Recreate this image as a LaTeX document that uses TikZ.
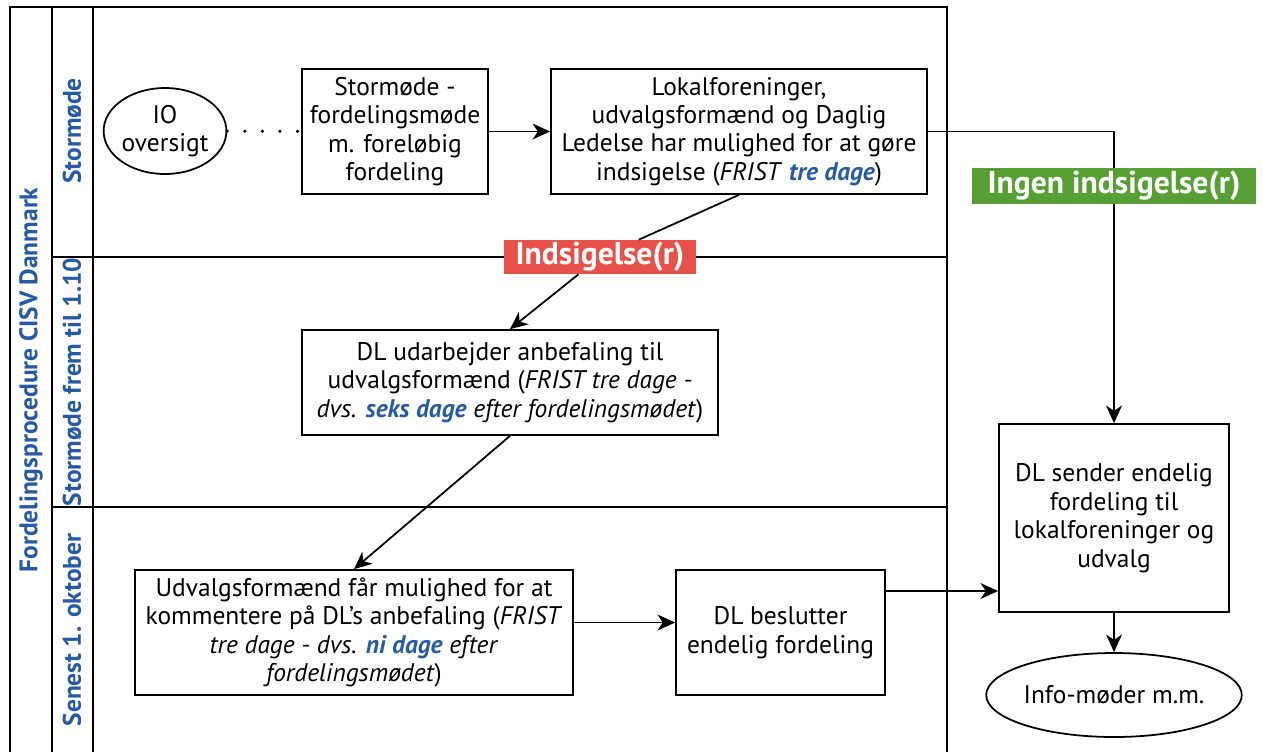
\documentclass[tikz,border=0pt]{standalone}
\usepackage{fontspec}
\setmainfont{PT Sans}
\usepackage{xcolor}
\usepackage{tikz}
\usetikzlibrary{arrows.meta,shapes.geometric,positioning}
\definecolor{laneblue}{RGB}{36,90,168}
\definecolor{noticered}{RGB}{232,80,74}
\definecolor{noticegreen}{RGB}{86,160,51}
\tikzset{pool style/.style={line width=1pt},
	step box/.style={draw,line width=1pt,align=center,inner sep=2pt,font=\fontsize{14.5}{16.2}\selectfont},
	end oval/.style={draw,ellipse,line width=1pt,align=center,inner sep=0pt,font=\fontsize{14.5}{16.2}\selectfont},
	lane text/.style={rotate=90,text=laneblue,font=\bfseries\fontsize{14.5}{16}\selectfont},
	tag/.style={text=white,inner sep=1pt,font=\bfseries\fontsize{18}{19}\selectfont}}
\newcommand{\frist}[1]{\textcolor{laneblue}{\bfseries\itshape #1}}

\begin{document}
\begin{tikzpicture}[x=0.02cm,y=-0.02cm,flow/.style={line width=1pt,arrows={-Stealth[length=10pt,width=9pt,inset=3pt]}}]
	\useasboundingbox (0,0) rectangle (1263,752);
	
	% pool and lanes
	\draw[pool style] (10,752) -- (10,7) -- (947,7) -- (947,752);
	\draw[pool style] (52,7) -- (52,752);
	\draw[pool style] (93,7) -- (93,752);
	\draw[pool style] (52,257) -- (947,257);
	\draw[pool style] (52,507) -- (947,507);
	
	\node[lane text] (pool) at (31,380) {Fordelingsprocedure CISV Danmark};
	\node[lane text] (lane1) at (72,131) {Stormøde};
	\node[lane text] (lane2) at (72,382) {Stormøde frem til 1.10};
	\node[lane text] (lane3) at (72,630) {Senest 1. oktober};
	
	% steps
	\node[end oval,minimum width=2.08cm,minimum height=1.72cm] (io) at (165,131) {IO\\oversigt};
	\node[step box,minimum width=3.72cm,minimum height=2.5cm] (stormode) at (395,131.5) {Stormøde -\\fordelingsmøde\\m. foreløbig\\fordeling};
	\node[step box,minimum width=7.52cm,minimum height=2.5cm] (lokal) at (739,131.5) {Lokalforeninger,\\udvalgsformænd og Daglig\\Ledelse har mulighed for at gøre\\indsigelse (\textit{FRIST} \frist{tre dage})};
	\node[step box,minimum width=8.32cm,minimum height=2.1cm] (udarb) at (510,382.5) {DL udarbejder anbefaling til\\udvalgsformænd (\textit{FRIST tre dage -}\\\textit{dvs. \frist{seks dage} efter fordelingsmødet})};
	\node[step box,minimum width=8.76cm,minimum height=2.5cm] (udvalg) at (354,632.5) {Udvalgsformænd får mulighed for at\\kommentere på DL's anbefaling (\textit{FRIST}\\\textit{tre dage - dvs. \frist{ni dage} efter}\\\textit{fordelingsmødet})};
	\node[step box,minimum width=4.18cm,minimum height=2.5cm] (beslut) at (780.5,632.5) {DL beslutter\\endelig fordeling};
	\node[step box,minimum width=4.6cm,minimum height=3.76cm] (sender) at (1114,518) {DL sender endelig\\fordeling til\\lokalforeninger og\\udvalg};
	\node[end oval,minimum width=5.04cm,minimum height=1.68cm] (info) at (1114,695) {Info-møder m.m.};
	
	% decisions
	\node[tag,fill=noticered,minimum width=3.86cm,minimum height=0.68cm] (indsig) at (600,257) {Indsigelse(r)};
	\node[tag,fill=noticegreen,minimum width=5.7cm,minimum height=0.72cm] (ingen) at (1114,186) {Ingen indsigelse(r)};
	
	% flow
	\draw[line width=2pt,line cap=round,dash pattern=on 0pt off 10pt] (io) -- (stormode);
	\draw[flow] (stormode) -- (lokal);
	\draw[line width=1pt] (lokal.east) -| (ingen);
	\draw[flow] (ingen) -- (sender);
	\draw[line width=1pt] (lokal.south) -- (indsig);
	\draw[flow] (indsig) -- (udarb.north);
	\draw[flow] (udarb.south) -- (udvalg.north);
	\draw[flow] ([yshift=0.2cm]udvalg.east) -- ([yshift=0.2cm]beslut.west);
	\draw[flow] ([yshift=0.83cm]beslut.east) -- ([yshift=0.83cm]beslut.east -| sender.west);
	\draw[flow] (sender) -- (info);
\end{tikzpicture}
\end{document}
